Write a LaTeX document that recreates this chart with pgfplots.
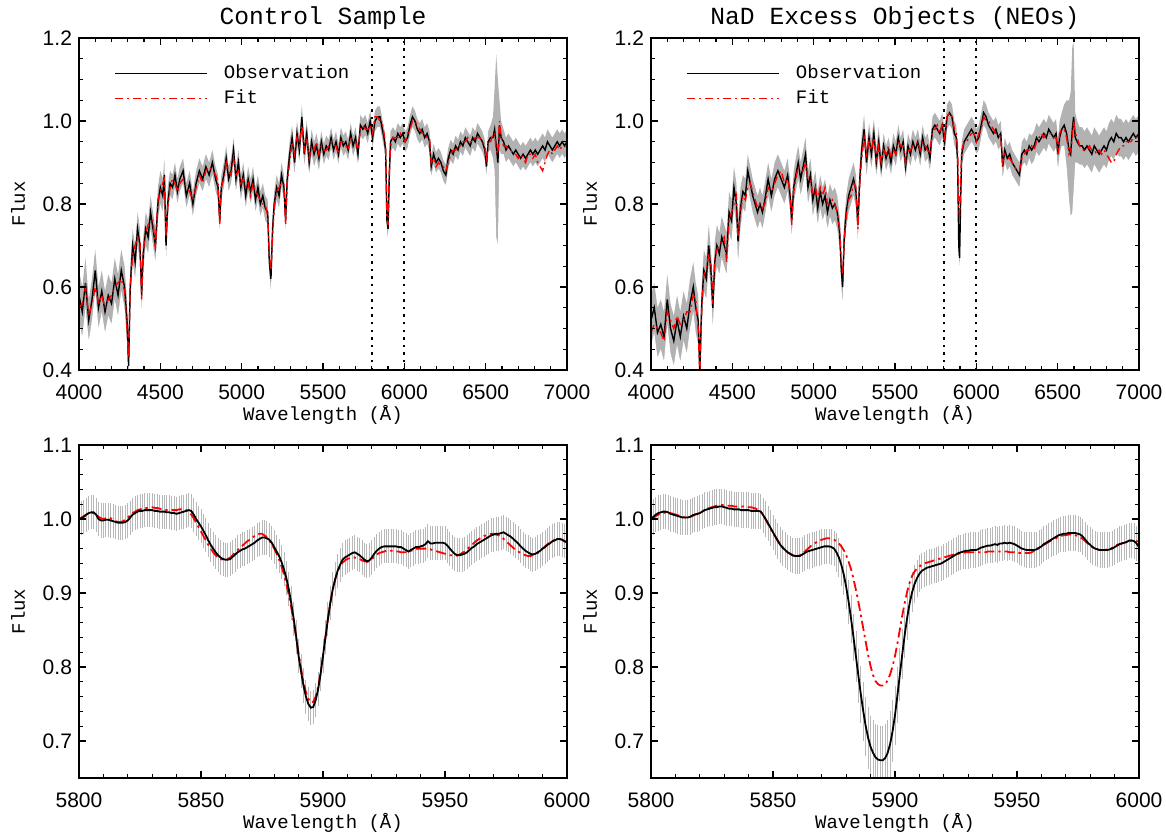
\documentclass[border=0pt]{standalone}
\usepackage{fontspec}
\setmainfont{Liberation Mono}
\newfontfamily\ticksf{Liberation Sans}
\usepackage{pgfplots}
\pgfplotsset{compat=1.18}
\usepackage{pgfplotstable}

\pgfplotstableread{
x o f e
4000 0.58 0.55 0.06
4020 0.54 0.56 0.06
4040 0.61 0.60 0.06
4060 0.52 0.53 0.05
4080 0.57 0.56 0.05
4100 0.64 0.60 0.05
4120 0.55 0.56 0.05
4140 0.59 0.58 0.05
4160 0.54 0.55 0.05
4180 0.58 0.57 0.05
4200 0.56 0.58 0.05
4220 0.62 0.60 0.05
4240 0.58 0.61 0.05
4260 0.64 0.62 0.05
4280 0.60 0.59 0.05
4295 0.52 0.50 0.05
4305 0.41 0.43 0.05
4315 0.60 0.60 0.05
4330 0.70 0.68 0.04
4345 0.66 0.70 0.04
4360 0.74 0.72 0.04
4375 0.70 0.71 0.04
4385 0.58 0.57 0.04
4395 0.68 0.69 0.04
4410 0.74 0.73 0.04
4425 0.72 0.75 0.04
4440 0.78 0.76 0.04
4455 0.74 0.76 0.04
4470 0.70 0.69 0.04
4485 0.80 0.81 0.04
4500 0.84 0.83 0.04
4515 0.82 0.85 0.04
4525 0.87 0.86 0.04
4535 0.70 0.72 0.04
4545 0.80 0.79 0.04
4560 0.85 0.84 0.03
4575 0.84 0.86 0.03
4590 0.87 0.85 0.03
4605 0.83 0.83 0.03
4620 0.86 0.85 0.03
4640 0.88 0.86 0.03
4660 0.82 0.84 0.03
4680 0.85 0.83 0.03
4700 0.80 0.81 0.03
4720 0.85 0.84 0.03
4740 0.88 0.87 0.03
4760 0.86 0.85 0.03
4780 0.89 0.88 0.03
4800 0.87 0.89 0.03
4820 0.90 0.88 0.03
4840 0.86 0.87 0.03
4855 0.84 0.85 0.03
4865 0.76 0.75 0.03
4875 0.84 0.84 0.03
4890 0.87 0.86 0.03
4905 0.91 0.90 0.03
4920 0.86 0.88 0.03
4935 0.88 0.87 0.03
4950 0.93 0.91 0.03
4965 0.86 0.87 0.03
4980 0.90 0.88 0.03
4995 0.84 0.85 0.03
5010 0.87 0.86 0.03
5025 0.82 0.84 0.03
5040 0.86 0.85 0.03
5055 0.83 0.82 0.03
5070 0.86 0.85 0.03
5085 0.81 0.83 0.03
5100 0.84 0.82 0.03
5115 0.80 0.81 0.03
5130 0.82 0.80 0.03
5145 0.79 0.80 0.03
5160 0.78 0.77 0.03
5170 0.66 0.68 0.03
5180 0.62 0.64 0.03
5190 0.74 0.72 0.03
5200 0.80 0.79 0.03
5215 0.84 0.83 0.03
5230 0.82 0.84 0.03
5245 0.87 0.85 0.03
5260 0.84 0.85 0.03
5270 0.76 0.75 0.03
5280 0.86 0.85 0.03
5295 0.92 0.90 0.03
5310 0.96 0.95 0.03
5325 0.90 0.92 0.03
5340 0.97 0.96 0.03
5355 0.93 0.94 0.03
5370 1.01 0.99 0.03
5385 0.92 0.93 0.03
5400 0.97 0.96 0.03
5415 0.90 0.91 0.03
5430 0.95 0.94 0.03
5445 0.92 0.93 0.03
5460 0.94 0.95 0.03
5475 0.91 0.92 0.03
5490 0.95 0.94 0.025
5505 0.92 0.93 0.025
5520 0.94 0.93 0.025
5535 0.93 0.94 0.025
5550 0.96 0.95 0.025
5565 0.93 0.94 0.025
5580 0.95 0.94 0.025
5595 0.92 0.92 0.025
5610 0.96 0.95 0.025
5625 0.94 0.95 0.025
5640 0.95 0.94 0.025
5655 0.93 0.93 0.025
5670 0.97 0.96 0.025
5685 0.94 0.95 0.025
5700 0.96 0.95 0.025
5715 0.92 0.93 0.025
5730 0.99 0.98 0.025
5745 0.98 0.99 0.025
5760 0.99 0.98 0.025
5775 0.97 0.98 0.025
5790 1.00 0.99 0.025
5805 0.96 0.97 0.025
5820 1.00 1.01 0.025
5835 1.01 1.01 0.025
5850 1.01 1.00 0.025
5865 0.98 0.99 0.025
5875 0.96 0.97 0.025
5885 0.93 0.94 0.025
5893 0.76 0.77 0.025
5900 0.74 0.75 0.025
5907 0.86 0.87 0.025
5915 0.95 0.94 0.025
5930 0.96 0.96 0.025
5945 0.95 0.96 0.025
5960 0.97 0.96 0.025
5975 0.96 0.97 0.025
5990 0.97 0.96 0.025
6005 0.95 0.95 0.025
6020 0.96 0.97 0.025
6035 0.99 0.98 0.025
6050 1.01 1.00 0.025
6065 1.00 1.00 0.025
6080 0.98 0.99 0.025
6095 0.97 0.98 0.025
6110 0.98 0.97 0.025
6125 0.96 0.97 0.025
6140 0.97 0.96 0.025
6155 0.95 0.96 0.025
6165 0.89 0.90 0.025
6180 0.92 0.91 0.025
6195 0.90 0.89 0.025
6210 0.91 0.90 0.025
6225 0.90 0.89 0.025
6240 0.88 0.89 0.025
6255 0.87 0.88 0.025
6270 0.91 0.90 0.025
6285 0.93 0.92 0.025
6300 0.92 0.93 0.025
6315 0.94 0.93 0.025
6330 0.93 0.94 0.025
6345 0.95 0.94 0.025
6360 0.94 0.95 0.025
6375 0.96 0.95 0.025
6390 0.95 0.96 0.025
6405 0.94 0.95 0.025
6420 0.96 0.95 0.025
6435 0.95 0.96 0.025
6450 0.97 0.96 0.025
6465 0.96 0.96 0.025
6480 0.95 0.95 0.025
6495 0.93 0.94 0.025
6505 0.89 0.90 0.025
6515 0.95 0.95 0.025
6530 0.96 0.95 0.03
6545 0.96 0.97 0.05
6555 0.98 0.97 0.10
6565 0.94 0.93 0.22
6575 0.90 0.92 0.20
6585 0.99 1.00 0.06
6595 0.96 0.96 0.04
6610 0.95 0.94 0.03
6625 0.93 0.94 0.03
6640 0.94 0.93 0.03
6655 0.93 0.93 0.03
6670 0.92 0.92 0.03
6685 0.93 0.92 0.03
6700 0.92 0.91 0.03
6715 0.91 0.92 0.03
6730 0.92 0.91 0.03
6745 0.91 0.90 0.03
6760 0.92 0.92 0.03
6775 0.93 0.92 0.03
6790 0.92 0.91 0.03
6805 0.93 0.92 0.03
6820 0.92 0.90 0.03
6835 0.93 0.89 0.03
6850 0.94 0.88 0.03
6865 0.93 0.90 0.03
6880 0.95 0.92 0.03
6895 0.94 0.93 0.03
6910 0.93 0.92 0.03
6925 0.94 0.93 0.03
6940 0.95 0.94 0.03
6955 0.94 0.93 0.03
6970 0.95 0.94 0.03
6985 0.94 0.94 0.03
7000 0.95 0.94 0.03
}\ctrltop

\pgfplotstableread{
x o f e
4000 0.52 0.49 0.06
4020 0.55 0.51 0.06
4040 0.49 0.50 0.06
4060 0.51 0.49 0.06
4080 0.48 0.47 0.06
4100 0.57 0.54 0.06
4120 0.50 0.52 0.06
4140 0.47 0.50 0.06
4160 0.52 0.53 0.06
4180 0.48 0.51 0.06
4200 0.53 0.52 0.06
4220 0.50 0.54 0.06
4240 0.56 0.54 0.06
4260 0.60 0.58 0.06
4275 0.55 0.57 0.06
4290 0.52 0.50 0.06
4300 0.40 0.39 0.06
4312 0.56 0.55 0.05
4325 0.64 0.63 0.05
4340 0.62 0.64 0.05
4355 0.70 0.68 0.05
4370 0.63 0.65 0.05
4380 0.55 0.56 0.05
4392 0.66 0.67 0.05
4405 0.70 0.69 0.05
4420 0.68 0.70 0.05
4435 0.72 0.71 0.05
4450 0.70 0.72 0.05
4465 0.68 0.66 0.05
4480 0.78 0.76 0.05
4495 0.76 0.78 0.05
4510 0.84 0.80 0.05
4525 0.80 0.82 0.05
4535 0.71 0.72 0.05
4550 0.79 0.78 0.05
4565 0.83 0.82 0.04
4580 0.82 0.81 0.04
4595 0.88 0.84 0.04
4610 0.85 0.85 0.04
4625 0.82 0.83 0.04
4640 0.80 0.81 0.04
4655 0.78 0.79 0.04
4670 0.80 0.80 0.04
4685 0.78 0.79 0.04
4700 0.81 0.80 0.04
4720 0.86 0.84 0.04
4740 0.82 0.83 0.04
4760 0.86 0.85 0.04
4780 0.88 0.87 0.04
4800 0.86 0.88 0.04
4820 0.84 0.85 0.04
4840 0.87 0.86 0.04
4855 0.82 0.83 0.04
4865 0.76 0.75 0.04
4877 0.84 0.83 0.04
4890 0.87 0.86 0.04
4905 0.90 0.89 0.04
4920 0.86 0.88 0.04
4935 0.89 0.88 0.04
4950 0.92 0.90 0.04
4965 0.84 0.86 0.04
4980 0.87 0.86 0.04
4995 0.81 0.82 0.04
5010 0.84 0.84 0.04
5025 0.79 0.81 0.04
5040 0.83 0.84 0.04
5055 0.80 0.82 0.04
5070 0.82 0.84 0.04
5085 0.78 0.80 0.04
5100 0.81 0.80 0.04
5115 0.79 0.81 0.04
5130 0.80 0.80 0.04
5145 0.78 0.78 0.04
5160 0.73 0.74 0.04
5170 0.64 0.66 0.04
5178 0.60 0.63 0.04
5188 0.72 0.71 0.04
5200 0.78 0.77 0.04
5215 0.82 0.81 0.04
5230 0.84 0.82 0.04
5245 0.86 0.85 0.04
5260 0.83 0.84 0.04
5272 0.75 0.74 0.04
5282 0.85 0.84 0.04
5295 0.93 0.91 0.035
5310 0.98 0.96 0.035
5325 0.90 0.92 0.035
5340 0.96 0.95 0.035
5355 0.92 0.93 0.035
5370 0.97 0.96 0.035
5385 0.90 0.91 0.035
5400 0.95 0.94 0.035
5415 0.89 0.90 0.03
5430 0.94 0.93 0.03
5445 0.91 0.92 0.03
5460 0.93 0.94 0.03
5475 0.90 0.91 0.03
5490 0.94 0.93 0.03
5505 0.92 0.92 0.03
5520 0.96 0.95 0.03
5535 0.93 0.94 0.03
5550 0.95 0.94 0.03
5565 0.89 0.90 0.03
5580 0.94 0.93 0.03
5595 0.92 0.93 0.03
5610 0.95 0.94 0.03
5625 0.93 0.94 0.03
5640 0.95 0.95 0.03
5655 0.92 0.93 0.03
5670 0.96 0.95 0.03
5685 0.93 0.94 0.03
5700 0.94 0.93 0.03
5715 0.91 0.92 0.03
5730 0.98 0.98 0.03
5745 0.99 0.98 0.03
5760 0.98 0.99 0.03
5775 0.97 0.97 0.03
5790 0.99 0.99 0.03
5805 0.95 0.96 0.03
5820 1.01 1.01 0.03
5835 1.02 1.02 0.03
5850 1.01 1.01 0.03
5865 0.97 0.98 0.03
5877 0.96 0.97 0.03
5885 0.90 0.93 0.03
5892 0.70 0.79 0.03
5897 0.67 0.77 0.03
5903 0.80 0.85 0.03
5910 0.92 0.93 0.03
5925 0.95 0.95 0.03
5940 0.96 0.95 0.03
5955 0.97 0.96 0.03
5970 0.98 0.97 0.03
5985 0.97 0.97 0.03
6000 0.95 0.95 0.03
6015 0.96 0.97 0.03
6030 0.99 0.98 0.03
6045 1.02 1.01 0.03
6060 1.01 1.00 0.03
6075 0.99 1.00 0.03
6090 0.98 0.99 0.03
6105 0.97 0.98 0.03
6120 0.98 0.97 0.03
6135 0.96 0.97 0.03
6150 0.97 0.96 0.03
6162 0.89 0.90 0.03
6175 0.93 0.92 0.03
6190 0.91 0.91 0.03
6205 0.92 0.91 0.03
6220 0.90 0.90 0.03
6235 0.89 0.89 0.03
6250 0.88 0.88 0.03
6265 0.87 0.88 0.03
6280 0.92 0.91 0.03
6295 0.93 0.92 0.03
6310 0.92 0.93 0.03
6325 0.94 0.93 0.03
6340 0.93 0.94 0.035
6355 0.94 0.93 0.035
6370 0.96 0.95 0.035
6385 0.95 0.96 0.035
6400 0.96 0.97 0.035
6415 0.97 0.96 0.035
6430 0.96 0.97 0.035
6445 0.98 0.97 0.035
6460 0.97 0.97 0.035
6475 0.96 0.96 0.035
6490 0.97 0.96 0.035
6502 0.92 0.92 0.035
6512 0.96 0.97 0.04
6525 0.98 0.98 0.04
6540 0.99 0.98 0.05
6555 0.97 0.96 0.08
6570 0.93 0.92 0.12
6580 0.92 0.93 0.15
6590 0.98 0.96 0.20
6598 1.01 1.00 0.18
6608 0.96 0.97 0.06
6620 0.95 0.96 0.05
6635 0.94 0.94 0.045
6650 0.94 0.93 0.045
6665 0.93 0.93 0.045
6680 0.94 0.93 0.045
6695 0.93 0.94 0.045
6710 0.92 0.93 0.045
6725 0.94 0.93 0.045
6740 0.93 0.92 0.045
6755 0.92 0.93 0.045
6770 0.93 0.92 0.045
6785 0.94 0.93 0.045
6800 0.93 0.92 0.045
6815 0.95 0.91 0.045
6830 0.96 0.90 0.045
6845 0.95 0.90 0.045
6860 0.97 0.92 0.045
6875 0.96 0.93 0.045
6890 0.96 0.94 0.045
6905 0.95 0.94 0.045
6920 0.96 0.95 0.045
6935 0.95 0.95 0.045
6950 0.96 0.95 0.045
6965 0.97 0.96 0.045
6980 0.96 0.96 0.045
7000 0.97 0.96 0.045
}\neotop

\pgfplotstableread{
x o f
5800 1.000 1.000
5801 1.001 1.002
5802 1.003 1.004
5803 1.006 1.006
5804 1.008 1.007
5805 1.009 1.008
5806 1.009 1.008
5807 1.006 1.006
5808 1.000 1.003
5809 0.998 1.001
5810 0.998 1.000
5811 0.999 1.001
5812 0.999 1.002
5813 0.998 1.001
5814 0.997 0.999
5815 0.996 0.997
5816 0.995 0.996
5817 0.995 0.996
5818 0.995 0.997
5819 0.996 0.999
5820 0.998 1.002
5821 1.002 1.005
5822 1.006 1.008
5823 1.008 1.010
5824 1.010 1.012
5825 1.011 1.013
5826 1.011 1.014
5827 1.012 1.015
5828 1.012 1.015
5829 1.012 1.016
5830 1.012 1.016
5831 1.011 1.015
5832 1.011 1.015
5833 1.010 1.014
5834 1.010 1.013
5835 1.010 1.013
5836 1.009 1.012
5837 1.009 1.012
5838 1.008 1.012
5839 1.008 1.012
5840 1.007 1.012
5841 1.008 1.013
5842 1.009 1.013
5843 1.010 1.013
5844 1.011 1.012
5845 1.012 1.010
5846 1.011 1.006
5847 1.006 1.001
5848 1.000 0.995
5849 0.995 0.989
5850 0.990 0.983
5851 0.984 0.977
5852 0.978 0.971
5853 0.971 0.965
5854 0.965 0.960
5855 0.960 0.955
5856 0.955 0.951
5857 0.951 0.948
5858 0.948 0.946
5859 0.946 0.945
5860 0.945 0.945
5861 0.945 0.946
5862 0.946 0.948
5863 0.949 0.951
5864 0.952 0.955
5865 0.955 0.958
5866 0.957 0.961
5867 0.959 0.964
5868 0.960 0.967
5869 0.962 0.970
5870 0.964 0.972
5871 0.966 0.975
5872 0.968 0.977
5873 0.971 0.979
5874 0.973 0.980
5875 0.975 0.980
5876 0.975 0.978
5877 0.974 0.975
5878 0.972 0.971
5879 0.968 0.966
5880 0.962 0.960
5881 0.956 0.953
5882 0.950 0.945
5883 0.942 0.936
5884 0.932 0.925
5885 0.920 0.912
5886 0.905 0.897
5887 0.886 0.880
5888 0.865 0.861
5889 0.841 0.840
5890 0.815 0.818
5891 0.794 0.798
5892 0.775 0.780
5893 0.760 0.766
5894 0.750 0.757
5895 0.745 0.752
5896 0.746 0.753
5897 0.755 0.760
5898 0.770 0.773
5899 0.790 0.792
5900 0.815 0.815
5901 0.840 0.840
5902 0.865 0.864
5903 0.887 0.886
5904 0.905 0.904
5905 0.919 0.918
5906 0.930 0.929
5907 0.938 0.936
5908 0.945 0.941
5909 0.948 0.944
5910 0.950 0.946
5911 0.952 0.947
5912 0.954 0.948
5913 0.955 0.948
5914 0.953 0.947
5915 0.951 0.946
5916 0.948 0.944
5917 0.945 0.943
5918 0.943 0.942
5919 0.944 0.943
5920 0.948 0.946
5921 0.953 0.949
5922 0.957 0.952
5923 0.960 0.954
5924 0.962 0.955
5925 0.963 0.956
5926 0.963 0.957
5927 0.963 0.957
5928 0.963 0.957
5929 0.963 0.957
5930 0.963 0.956
5931 0.962 0.956
5932 0.962 0.955
5933 0.960 0.955
5934 0.958 0.955
5935 0.956 0.956
5936 0.958 0.957
5937 0.960 0.958
5938 0.962 0.959
5939 0.962 0.960
5940 0.963 0.960
5941 0.964 0.960
5942 0.966 0.960
5943 0.970 0.959
5944 0.967 0.959
5945 0.967 0.958
5946 0.968 0.957
5947 0.968 0.956
5948 0.968 0.955
5949 0.968 0.954
5950 0.967 0.953
5951 0.964 0.952
5952 0.960 0.951
5953 0.956 0.951
5954 0.953 0.950
5955 0.951 0.951
5956 0.951 0.952
5957 0.952 0.954
5958 0.953 0.956
5959 0.955 0.959
5960 0.958 0.962
5961 0.961 0.965
5962 0.963 0.968
5963 0.966 0.971
5964 0.968 0.973
5965 0.970 0.975
5966 0.972 0.977
5967 0.974 0.978
5968 0.976 0.979
5969 0.978 0.980
5970 0.979 0.980
5971 0.980 0.979
5972 0.980 0.978
5973 0.981 0.976
5974 0.982 0.973
5975 0.980 0.970
5976 0.978 0.967
5977 0.976 0.964
5978 0.973 0.961
5979 0.970 0.958
5980 0.967 0.956
5981 0.963 0.954
5982 0.960 0.952
5983 0.957 0.951
5984 0.955 0.950
5985 0.953 0.950
5986 0.952 0.951
5987 0.953 0.952
5988 0.955 0.954
5989 0.957 0.957
5990 0.960 0.960
5991 0.962 0.963
5992 0.965 0.966
5993 0.967 0.968
5994 0.970 0.970
5995 0.971 0.972
5996 0.973 0.973
5997 0.973 0.973
5998 0.972 0.972
5999 0.970 0.970
6000 0.968 0.969
}\ctrlbot

\pgfplotstableread{
x o f e
5800 1.000 1.000 0.024
5801 1.003 1.002 0.024
5802 1.006 1.004 0.024
5803 1.008 1.006 0.024
5804 1.009 1.007 0.024
5805 1.010 1.008 0.024
5806 1.010 1.009 0.024
5807 1.009 1.009 0.024
5808 1.007 1.008 0.024
5809 1.006 1.007 0.024
5810 1.005 1.006 0.024
5811 1.004 1.005 0.024
5812 1.003 1.004 0.024
5813 1.002 1.003 0.024
5814 1.002 1.002 0.024
5815 1.002 1.002 0.024
5816 1.003 1.003 0.024
5817 1.005 1.004 0.024
5818 1.006 1.006 0.024
5819 1.007 1.007 0.024
5820 1.008 1.008 0.024
5821 1.010 1.010 0.024
5822 1.012 1.012 0.024
5823 1.013 1.014 0.024
5824 1.014 1.015 0.024
5825 1.015 1.016 0.024
5826 1.016 1.017 0.024
5827 1.016 1.018 0.024
5828 1.017 1.019 0.024
5829 1.017 1.019 0.024
5830 1.016 1.019 0.024
5831 1.015 1.018 0.024
5832 1.014 1.018 0.024
5833 1.014 1.018 0.024
5834 1.013 1.017 0.024
5835 1.013 1.017 0.024
5836 1.013 1.017 0.024
5837 1.012 1.017 0.024
5838 1.012 1.017 0.024
5839 1.012 1.016 0.024
5840 1.012 1.016 0.024
5841 1.011 1.016 0.024
5842 1.011 1.015 0.024
5843 1.011 1.014 0.024
5844 1.011 1.012 0.024
5845 1.010 1.010 0.024
5846 1.005 1.005 0.024
5847 1.000 0.999 0.024
5848 0.994 0.993 0.024
5849 0.988 0.987 0.024
5850 0.982 0.981 0.024
5851 0.976 0.976 0.024
5852 0.970 0.971 0.024
5853 0.965 0.966 0.024
5854 0.961 0.962 0.024
5855 0.958 0.958 0.024
5856 0.955 0.955 0.024
5857 0.953 0.953 0.024
5858 0.951 0.951 0.024
5859 0.950 0.950 0.024
5860 0.950 0.950 0.024
5861 0.950 0.951 0.024
5862 0.952 0.953 0.024
5863 0.954 0.956 0.024
5864 0.956 0.959 0.024
5865 0.957 0.962 0.024
5866 0.958 0.965 0.024
5867 0.959 0.967 0.024
5868 0.960 0.969 0.024
5869 0.961 0.971 0.024
5870 0.962 0.972 0.024
5871 0.963 0.973 0.024
5872 0.963 0.974 0.024
5873 0.963 0.974 0.024
5874 0.962 0.973 0.024
5875 0.960 0.972 0.024
5876 0.955 0.970 0.026
5877 0.948 0.967 0.026
5878 0.938 0.963 0.028
5879 0.925 0.958 0.028
5880 0.908 0.951 0.030
5881 0.888 0.942 0.030
5882 0.865 0.932 0.032
5883 0.840 0.919 0.032
5884 0.814 0.904 0.034
5885 0.788 0.888 0.036
5886 0.763 0.870 0.038
5887 0.740 0.852 0.040
5888 0.720 0.834 0.040
5889 0.704 0.816 0.042
5890 0.692 0.801 0.042
5891 0.684 0.789 0.044
5892 0.678 0.781 0.045
5893 0.675 0.777 0.046
5894 0.674 0.775 0.046
5895 0.674 0.775 0.046
5896 0.677 0.777 0.046
5897 0.684 0.782 0.045
5898 0.696 0.790 0.044
5899 0.713 0.801 0.042
5900 0.735 0.815 0.040
5901 0.762 0.832 0.038
5902 0.790 0.851 0.036
5903 0.818 0.870 0.034
5904 0.844 0.887 0.032
5905 0.867 0.902 0.030
5906 0.886 0.914 0.028
5907 0.901 0.923 0.027
5908 0.912 0.929 0.026
5909 0.920 0.933 0.025
5910 0.926 0.936 0.025
5911 0.930 0.938 0.024
5912 0.932 0.940 0.024
5913 0.934 0.941 0.024
5914 0.935 0.942 0.024
5915 0.936 0.943 0.024
5916 0.937 0.944 0.024
5917 0.938 0.945 0.024
5918 0.939 0.946 0.024
5919 0.940 0.947 0.024
5920 0.942 0.948 0.024
5921 0.944 0.949 0.024
5922 0.946 0.950 0.024
5923 0.948 0.951 0.024
5924 0.950 0.952 0.024
5925 0.952 0.953 0.024
5926 0.954 0.953 0.024
5927 0.955 0.954 0.024
5928 0.956 0.954 0.024
5929 0.957 0.955 0.024
5930 0.957 0.955 0.024
5931 0.958 0.955 0.024
5932 0.958 0.955 0.024
5933 0.958 0.955 0.024
5934 0.959 0.955 0.024
5935 0.961 0.955 0.024
5936 0.962 0.955 0.024
5937 0.963 0.955 0.024
5938 0.964 0.956 0.024
5939 0.964 0.956 0.024
5940 0.965 0.956 0.024
5941 0.966 0.956 0.024
5942 0.965 0.956 0.024
5943 0.967 0.956 0.024
5944 0.967 0.956 0.024
5945 0.968 0.956 0.024
5946 0.967 0.956 0.024
5947 0.968 0.955 0.024
5948 0.967 0.955 0.024
5949 0.966 0.955 0.024
5950 0.964 0.954 0.024
5951 0.962 0.954 0.024
5952 0.960 0.954 0.024
5953 0.959 0.954 0.024
5954 0.958 0.954 0.024
5955 0.958 0.954 0.024
5956 0.958 0.955 0.024
5957 0.958 0.957 0.024
5958 0.959 0.959 0.024
5959 0.961 0.961 0.024
5960 0.963 0.963 0.024
5961 0.966 0.965 0.024
5962 0.968 0.967 0.024
5963 0.970 0.969 0.024
5964 0.972 0.971 0.024
5965 0.974 0.973 0.024
5966 0.976 0.974 0.024
5967 0.978 0.976 0.024
5968 0.979 0.977 0.024
5969 0.980 0.978 0.024
5970 0.980 0.978 0.024
5971 0.981 0.979 0.024
5972 0.981 0.979 0.024
5973 0.981 0.979 0.024
5974 0.981 0.978 0.024
5975 0.980 0.977 0.024
5976 0.979 0.975 0.024
5977 0.976 0.973 0.024
5978 0.972 0.970 0.024
5979 0.968 0.967 0.024
5980 0.965 0.964 0.024
5981 0.962 0.962 0.024
5982 0.960 0.960 0.024
5983 0.959 0.959 0.024
5984 0.958 0.958 0.024
5985 0.958 0.958 0.024
5986 0.958 0.958 0.024
5987 0.958 0.959 0.024
5988 0.959 0.960 0.024
5989 0.960 0.961 0.024
5990 0.962 0.963 0.024
5991 0.964 0.965 0.024
5992 0.966 0.966 0.024
5993 0.967 0.967 0.024
5994 0.968 0.968 0.024
5995 0.969 0.969 0.024
5996 0.971 0.970 0.024
5997 0.971 0.971 0.024
5998 0.970 0.971 0.024
5999 0.967 0.970 0.024
6000 0.962 0.970 0.024
}\neobot

\definecolor{bandgray}{gray}{0.70}
\definecolor{bargray}{gray}{0.72}

\tikzset{
  obsline/.style={black, line width=0.9pt},
  fitline/.style={red, line width=0.9pt, dash pattern=on 5pt off 2pt on 1.2pt off 2pt},
  obsthin/.style={black, line width=0.7pt},
  fitthin/.style={red, line width=0.7pt, dash pattern=on 4pt off 2pt on 1pt off 2pt},
  dotv/.style={black, line width=0.9pt, dash pattern=on 1.2pt off 2.6pt},
}

\pgfplotsset{
  myaxis/.style={
    scale only axis,
    width=244pt,
    axis on top,
    axis line style={line width=0.7pt},
    every tick/.style={black, line width=0.6pt},
    major tick length=3.6pt,
    minor tick length=2pt,
    tick align=inside,
    /pgf/number format/assume math mode=true,
    tick label style={font=\ticksf\fontsize{10.5}{12}\selectfont},
    xticklabel style={anchor=center, yshift=-11pt, /pgf/number format/1000 sep={}},
    scaled ticks=false,
    yticklabel style={/pgf/number format/.cd, fixed, fixed zerofill, precision=1},
    label style={font=\fontsize{9.5}{11}\selectfont},
    xlabel={Wavelength (Å)},
    ylabel={Flux},
    xlabel style={at={(axis description cs:0.5,0)}, anchor=center, yshift=-22.5pt},
    ylabel style={at={(axis description cs:-0.125,0.5)}, anchor=center},
  },
  topaxis/.style={
    myaxis,
    height=166pt,
    xmin=4000, xmax=7000, ymin=0.4, ymax=1.2,
    xtick={4000,4500,5000,5500,6000,6500,7000},
    minor x tick num=4,
    ytick={0.4,0.6,0.8,1.0,1.2},
    minor y tick num=3,
    legend cell align=left,
    legend image code/.code={\draw[##1] (0pt,0pt) -- (46pt,0pt);},
    legend style={draw=none, fill=none, inner sep=0pt,
      font=\fontsize{9.5}{11}\selectfont,
      at={(axis description cs:0.072,0.925)}, anchor=north west,
      row sep=2.5pt,
      nodes={inner sep=1pt, text height=6.5pt, text depth=1.5pt},
      /tikz/every odd column/.append style={column sep=7pt}},
  },
  botaxis/.style={
    myaxis,
    height=166.5pt,
    xmin=5800, xmax=6000, ymin=0.65, ymax=1.1,
    xtick={5800,5850,5900,5950,6000},
    minor x tick num=4,
    ytick={0.7,0.8,0.9,1.0,1.1},
    minor y tick num=4,
  },
  toptitle/.style={
    extra description/.code={
      \node[font=\fontsize{12.3}{14}\selectfont, anchor=center] at ([yshift=10pt]axis description cs:0.5,1) {#1};
    },
  },
}

\begin{document}
\begin{tikzpicture}
\useasboundingbox (0,0) rectangle (583pt,418pt);

% ---------- top left
\begin{axis}[topaxis, at={(39.5pt,233pt)}, anchor=south west, toptitle={Control Sample}]
\addplot[fill=bandgray, draw=none, forget plot] table[x=x, y expr=\thisrow{o}+\thisrow{e}] {\ctrltop} \closedcycle;
\addplot[fill=white, draw=none, forget plot] table[x=x, y expr=\thisrow{o}-\thisrow{e}] {\ctrltop} \closedcycle;
\addplot[dotv, forget plot] coordinates {(5800,0.4) (5800,1.2)};
\addplot[dotv, forget plot] coordinates {(6000,0.4) (6000,1.2)};
\addplot[obsthin] table[x=x, y=o] {\ctrltop};
\addlegendentry{Observation}
\addplot[fitthin] table[x=x, y=f] {\ctrltop};
\addlegendentry{Fit}
\end{axis}

% ---------- top right
\begin{axis}[topaxis, at={(325.5pt,233pt)}, anchor=south west, toptitle={NaD Excess Objects (NEOs)}]
\addplot[fill=bandgray, draw=none, forget plot] table[x=x, y expr=\thisrow{o}+\thisrow{e}] {\neotop} \closedcycle;
\addplot[fill=white, draw=none, forget plot] table[x=x, y expr=\thisrow{o}-\thisrow{e}] {\neotop} \closedcycle;
\addplot[dotv, forget plot] coordinates {(5800,0.4) (5800,1.2)};
\addplot[dotv, forget plot] coordinates {(6000,0.4) (6000,1.2)};
\addplot[obsthin] table[x=x, y=o] {\neotop};
\addlegendentry{Observation}
\addplot[fitthin] table[x=x, y=f] {\neotop};
\addlegendentry{Fit}
\end{axis}

% ---------- bottom left
\begin{axis}[botaxis, at={(39.5pt,29pt)}, anchor=south west]
\addplot[draw=none, mark=none, forget plot,
  error bars/.cd, y dir=both, y fixed=0.023, error mark=none,
  error bar style={draw=bargray, line width=0.45pt, solid}] table[x=x, y=o] {\ctrlbot};
\addplot[fitline] table[x=x, y=f] {\ctrlbot};
\addplot[obsline] table[x=x, y=o] {\ctrlbot};
\end{axis}

% ---------- bottom right
\begin{axis}[botaxis, at={(325.5pt,29pt)}, anchor=south west]
\addplot[draw=none, mark=none, forget plot,
  error bars/.cd, y dir=both, y explicit, error mark=none,
  error bar style={draw=bargray, line width=0.45pt, solid}] table[x=x, y=o, y error=e] {\neobot};
\addplot[fitline] table[x=x, y=f] {\neobot};
\addplot[obsline] table[x=x, y=o] {\neobot};
\end{axis}
\end{tikzpicture}
\end{document}
